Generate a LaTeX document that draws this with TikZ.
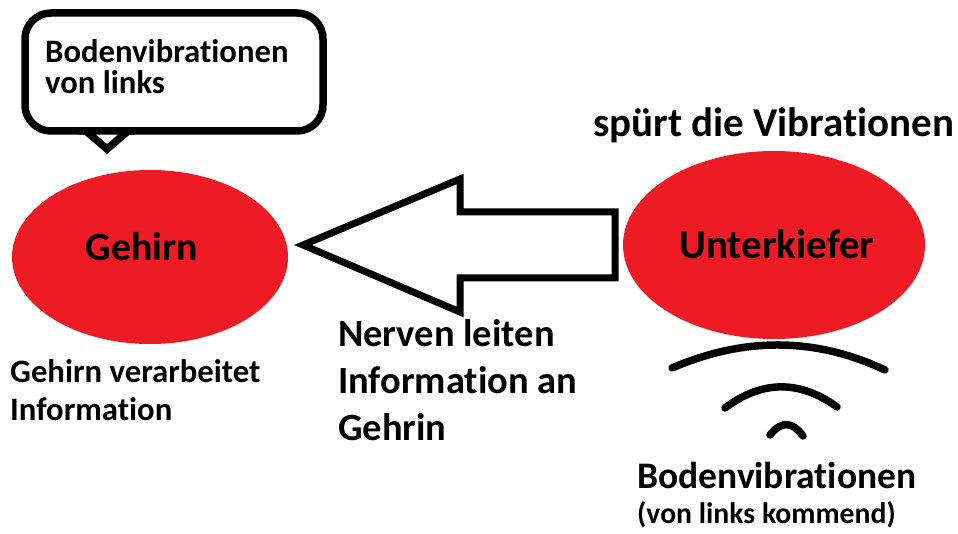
\documentclass[tikz,border=0pt]{standalone}
\usepackage{fontspec}
\setmainfont{Carlito}[Ligatures=NoCommon]
\usetikzlibrary{shapes.geometric}
\definecolor{paintred}{HTML}{ED1C24}
\begin{document}
\begin{tikzpicture}[x=1pt,y=-1pt,
  blob/.style={ellipse,fill=paintred,inner sep=0pt},
  txt/.style={anchor=base west,inner sep=0pt,font=\bfseries},
  stroke/.style={line width=7.5pt,line cap=round,line join=round},
]
\useasboundingbox (0,0) rectangle (958,534);
% speech bubble
\coordinate (b1) at (25,13);
\coordinate (b2) at (323,131);
\draw[stroke,fill=white,rounded corners=26pt] (b1) rectangle (b2);
\coordinate (tl) at (86,131);
\coordinate (tt) at (107,149);
\coordinate (tr) at (128,131);
\fill[white] ([yshift=-6pt]tl) -- (tt) -- ([yshift=-6pt]tr) -- cycle;
\draw[stroke,line join=miter] ([xshift=-6pt]tl) -- (tl) -- (tt) -- (tr) -- ([xshift=6pt]tr);
\node[txt,font=\bfseries\fontsize{32.7}{38}\selectfont] (bt1) at (45,63) {Bodenvibrationen};
\node[txt,font=\bfseries\fontsize{32.7}{38}\selectfont] (bt2) at (45,94) {von links};
% ellipses
\node[blob,minimum width=276pt,minimum height=174pt] (gehirn) at (150,257) {};
\node[txt,font=\bfseries\fontsize{40}{46}\selectfont,anchor=base] (gl) at (142,261) {Gehirn};
\node[blob,minimum width=302pt,minimum height=188pt] (kiefer) at (774,245) {};
\node[txt,font=\bfseries\fontsize{41}{46}\selectfont,anchor=base] (kl) at (777,259) {Unterkiefer};
% big arrow
\coordinate (at) at (303,245);
\draw[line width=7pt,line join=miter,fill=white] (at) -- (460,179) -- (460,212) -- (615,212) -- (615,278) -- (460,278) -- (460,312) -- cycle;
% texts
\node[txt,font=\bfseries\fontsize{41}{46}\selectfont] (sp) at (593,137) {spürt die Vibrationen};
\node[txt,font=\bfseries\fontsize{38.5}{46}\selectfont] (n1) at (338,347) {Nerven leiten};
\node[txt,font=\bfseries\fontsize{38.5}{46}\selectfont] (n2) at (338,393) {Information an};
\node[txt,font=\bfseries\fontsize{38.5}{46}\selectfont] (n3) at (338,440) {Gehrin};
\node[txt,font=\bfseries\fontsize{32.7}{38}\selectfont] (g1) at (10,382) {Gehirn verarbeitet};
\node[txt,font=\bfseries\fontsize{32.7}{38}\selectfont] (g2) at (10,420) {Information};
% waves
\coordinate (w1a) at (672,368); \coordinate (w1c) at (744,337); \coordinate (w1d) at (815,337); \coordinate (w1b) at (885,370);
\coordinate (w2a) at (725,408); \coordinate (w2c) at (762,380); \coordinate (w2d) at (800,380); \coordinate (w2b) at (837,407);
\coordinate (w3a) at (770,435); \coordinate (w3c) at (781,421); \coordinate (w3d) at (792,421); \coordinate (w3b) at (803,436);
\draw[stroke] (w1a) .. controls (w1c) and (w1d) .. (w1b);
\draw[stroke] (w2a) .. controls (w2c) and (w2d) .. (w2b);
\draw[stroke] (w3a) .. controls (w3c) and (w3d) .. (w3b);
\node[txt,font=\bfseries\fontsize{37.5}{44}\selectfont] (bv) at (637,488) {Bodenvibrationen};
\node[txt,font=\bfseries\fontsize{29.7}{36}\selectfont] (vk) at (637,523) {(von links kommend)};
\end{tikzpicture}
\end{document}
